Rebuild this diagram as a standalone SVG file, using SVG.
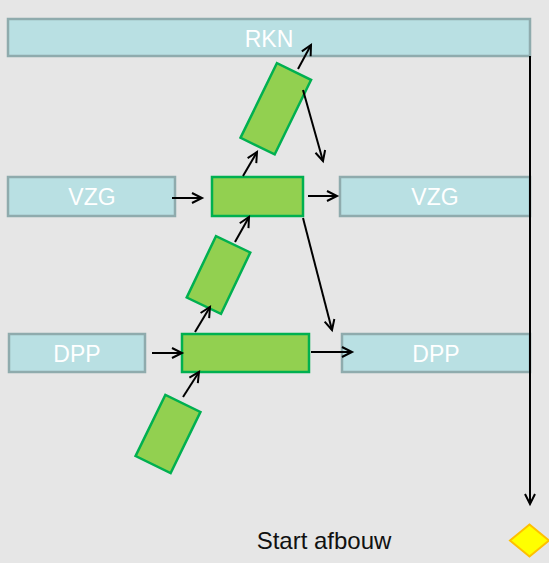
<svg xmlns="http://www.w3.org/2000/svg" width="549" height="563" viewBox="0 0 549 563">
  <style>
    .lane { fill: #B9E0E3; stroke: #8FABAD; stroke-width: 2.5; }
    .lane-text { font-family: "Liberation Sans", Arial, sans-serif; font-size: 23px; fill: #FFFFFF; text-anchor: middle; }
    .task { fill: #92D050; stroke: #00B050; stroke-width: 2.5; }
    .conn { stroke: #000000; stroke-width: 2; fill: none; marker-end: url(#arrow); }
    .label { font-family: "Liberation Sans", Arial, sans-serif; font-size: 24px; fill: #111111; text-anchor: middle; }
    .milestone { fill: #FFFF00; stroke: #FFC000; stroke-width: 2; }
  </style>
  <defs>
    <marker id="arrow" markerUnits="userSpaceOnUse" markerWidth="14" markerHeight="14" viewBox="-12 -7 14 14" refX="0" refY="0" orient="auto" overflow="visible">
      <path d="M -10,-5 L 0,0 L -10,5" fill="none" stroke="#000000" stroke-width="2"/>
    </marker>
  </defs>
  <rect x="0" y="0" width="549" height="563" fill="#E6E6E6"/>

  <g id="rkn">
    <rect class="lane" x="8" y="19" width="522" height="37"/>
    <text class="lane-text" x="269" y="47">RKN</text>
  </g>
  <g id="vzg-left">
    <rect class="lane" x="8" y="177" width="167" height="39"/>
    <text class="lane-text" x="92" y="205">VZG</text>
  </g>
  <g id="vzg-right">
    <rect class="lane" x="340" y="177" width="190" height="39"/>
    <text class="lane-text" x="435" y="205">VZG</text>
  </g>
  <g id="dpp-left">
    <rect class="lane" x="9" y="334" width="136" height="38"/>
    <text class="lane-text" x="77" y="362">DPP</text>
  </g>
  <g id="dpp-right">
    <rect class="lane" x="342" y="334" width="188" height="38"/>
    <text class="lane-text" x="436" y="362">DPP</text>
  </g>

  <g id="task-bottom-rotated">
    <rect class="task" x="-19.5" y="-34" width="39" height="68" transform="translate(168,434) rotate(26)"/>
  </g>
  <g id="task-dpp">
    <rect class="task" x="182" y="334" width="127" height="38"/>
  </g>
  <g id="task-middle-rotated">
    <rect class="task" x="-19" y="-34" width="38" height="68" transform="translate(218.5,275) rotate(25.5)"/>
  </g>
  <g id="task-vzg">
    <rect class="task" x="212" y="177" width="91" height="39"/>
  </g>
  <g id="task-top-rotated">
    <rect class="task" x="-19" y="-41.5" width="38" height="83" transform="translate(275.8,108.8) rotate(26)"/>
  </g>

  <g id="start-afbouw">
    <polygon class="milestone" points="510,540.5 529.5,524.5 549,540.5 529.5,556.5"/>
    <text class="label" x="324" y="549">Start afbouw</text>
  </g>

  <g id="connectors">
    <line class="conn" x1="172" y1="198" x2="202" y2="198"/>
    <line class="conn" x1="308" y1="196" x2="337" y2="196"/>
    <line class="conn" x1="152" y1="353" x2="182" y2="353"/>
    <line class="conn" x1="311" y1="352" x2="352" y2="352"/>
    <line class="conn" x1="303" y1="218" x2="332" y2="330"/>
    <line class="conn" x1="183" y1="397" x2="199" y2="372"/>
    <line class="conn" x1="195" y1="332" x2="210" y2="307"/>
    <line class="conn" x1="235" y1="242" x2="249" y2="217"/>
    <line class="conn" x1="243" y1="176" x2="257" y2="152"/>
    <line class="conn" x1="298" y1="69" x2="311" y2="45"/>
    <line class="conn" x1="303" y1="90" x2="323" y2="161"/>
    <line class="conn" x1="530" y1="56" x2="530" y2="504"/>
  </g>
</svg>
